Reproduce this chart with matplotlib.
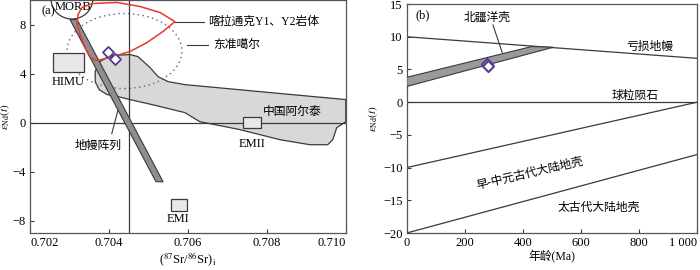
import numpy as np
import matplotlib
matplotlib.use("Agg")
import matplotlib.pyplot as plt
from matplotlib.patches import Polygon, Ellipse, Rectangle

plt.rcParams['font.family'] = ['Liberation Serif', 'Noto Sans CJK SC']
plt.rcParams['mathtext.fontset'] = 'stix'
plt.rcParams['font.size'] = 9

LINE = '#3a3a3a'
RED = '#e5392e'
PURPLE = '#563a94'

# ---- panel (a) data : (87Sr/86Sr)i vs eNd(t)
sr_vline = 0.7045
morb_center = (0.70306, 10.1)
morb_w, morb_h = 0.00106, 3.3

mantle_x = [0.70301, 0.70319, 0.70537, 0.70519]
mantle_y = [8.41, 8.41, -4.82, -4.82]

enriched_x = [0.70377, 0.70403, 0.70453, 0.70473, 0.70504, 0.70524, 0.70549, 0.70592,
              0.70782, 0.71000, 0.71000, 0.70977, 0.70967, 0.70954, 0.70909, 0.70833,
              0.70732, 0.70630, 0.70592, 0.70509, 0.70453, 0.70423, 0.70395, 0.70375,
              0.70365, 0.70365, 0.70372]
enriched_y = [4.98, 5.47, 5.55, 5.39, 4.49, 3.76, 3.35, 3.10,
              2.53, 1.88, 0.08, -0.41, -1.39, -1.80, -1.80, -1.39,
              -0.57, 0.08, 0.82, 1.47, 1.88, 2.12, 2.29, 2.69,
              3.35, 4.16, 4.73]

kalatongke_x = [0.703215, 0.703316, 0.703570, 0.704203, 0.704785, 0.705291, 0.705671,
                0.705367, 0.704962, 0.704532, 0.704101, 0.703696, 0.703519, 0.703392,
                0.703266, 0.703190]
kalatongke_y = [8.82, 9.39, 9.71, 9.80, 9.47, 8.98, 8.24,
                7.43, 6.53, 5.80, 5.39, 5.06, 5.31, 6.12,
                7.18, 8.08]

dzg_center = (0.704392, 5.84)
dzg_w, dzg_h = 0.002911, 6.12

himu_box = (0.70258, 4.10, 0.00079, 1.60)
altai_box = (0.70739, -0.41, 0.00046, 0.90)
emi_box = (0.70557, -7.20, 0.00040, 1.00)

sample_sr = [0.70398, 0.70415]
sample_nd_a = [5.80, 5.20]

sr_ticks = [0.702, 0.704, 0.706, 0.708, 0.710]
sr_labels = ['0.702', '0.704', '0.706', '0.708', '0.710']
nd_ticks_a = [-8, -4, 0, 4, 8]
nd_labels_a = ['−8', '−4', '0', '4', '8']

# ---- panel (b) data : age vs eNd(t)
dm_age = [0, 1000]
dm_nd = [10, 6.7]
chur_age = [0, 1000]
chur_nd = [0, 0]
prot_age = [0, 1000]
prot_nd = [-10, 0]
arch_age = [0, 1000]
arch_nd = [-20, -8]

ocean_age = [0, 0, 430, 505]
ocean_nd = [2.4, 3.8, 8.5, 8.4]

sample_age = [276, 279]
sample_nd_b = [5.8, 5.5]

age_ticks = [0, 200, 400, 600, 800, 1000]
age_labels = ['0', '200', '400', '600', '800', '1 000']
nd_ticks_b = [-20, -15, -10, -5, 0, 5, 10, 15]
nd_labels_b = ['−20', '−15', '−10', '−5', '0', '5', '10', '15']

fig = plt.figure(figsize=(7, 2.7), dpi=100)
ax1 = fig.add_axes([0.043, 0.137, 0.451, 0.863])
ax2 = fig.add_axes([0.581, 0.137, 0.415, 0.848])

# ---------------- (a)
ax1.add_patch(Polygon(list(zip(enriched_x, enriched_y)), closed=True,
                      fc='#d8d8d8', ec=LINE, lw=0.9, zorder=1))
ax1.add_patch(Ellipse(dzg_center, dzg_w, dzg_h, fill=False, ec='#666666',
                      lw=1.0, ls=(0, (1, 2.5)), zorder=2))
ax1.axvline(sr_vline, color=LINE, lw=0.9, zorder=2)
ax1.axhline(0, color=LINE, lw=0.9, zorder=2)
ax1.add_patch(Polygon(list(zip(mantle_x, mantle_y)), closed=True,
                      fc='#8e8e8e', ec=LINE, lw=0.8, zorder=3))
ax1.add_patch(Ellipse(morb_center, morb_w, morb_h, fill=False, ec=LINE, lw=0.9, zorder=3))
ax1.add_patch(Polygon(list(zip(kalatongke_x, kalatongke_y)), closed=True,
                      fill=False, ec=RED, lw=1.1, zorder=4))
for x0, y0, w, h in [himu_box, altai_box, emi_box]:
    ax1.add_patch(Rectangle((x0, y0), w, h, fc='#e8e8e8', ec=LINE, lw=0.9, zorder=4))
ax1.scatter(sample_sr, sample_nd_a, marker='D', s=32, facecolors='white',
            edgecolors=PURPLE, linewidths=1.3, zorder=6)

ax1.plot([0.705671, 0.70641], [8.24, 8.24], color=LINE, lw=0.8)
ax1.plot([0.70597, 0.70651], [6.37, 6.37], color=LINE, lw=0.8)
ax1.plot([0.70423, 0.70407], [1.06, -0.9], color=LINE, lw=0.8)

ax1.text(0.70309, 9.39, 'MORB', ha='center', va='center')
ax1.text(0.70296, 3.35, 'HIMU', ha='center', va='center')
ax1.text(0.70575, -7.84, 'EMI', ha='center', va='center')
ax1.text(0.70762, -1.75, 'EMII', ha='center', va='center')
ax1.text(0.70651, 8.2, '喀拉通克Y1、Y2岩体', ha='left', va='center', fontsize=8.5)
ax1.text(0.70663, 6.3, '东准噶尔', ha='left', va='center', fontsize=8.5)
ax1.text(0.70790, 0.9, '中国阿尔泰', ha='left', va='center', fontsize=8.5)
ax1.text(0.70372, -1.9, '地幔阵列', ha='center', va='center', fontsize=8.5)
ax1.text(0.035, 0.95, '(a)', transform=ax1.transAxes, ha='left', va='center')

ax1.set_xlim(0.702, 0.710)
ax1.set_ylim(-9, 10)
ax1.set_xticks(sr_ticks)
ax1.set_xticklabels(sr_labels)
ax1.get_xticklabels()[0].set_ha('left')
ax1.get_xticklabels()[-1].set_ha('right')
ax1.set_yticks(nd_ticks_a)
ax1.set_yticklabels(nd_labels_a)
ax1.set_xlabel(r'($^{87}$Sr/$^{86}$Sr)$_{\rm i}$', labelpad=1)
ax1.set_ylabel(r'$\varepsilon_{\rm Nd}(t)$', fontsize=8)
ax1.yaxis.set_label_coords(-0.056, 0.5)

# ---------------- (b)
ax2.plot(dm_age, dm_nd, color=LINE, lw=0.9)
ax2.plot(chur_age, chur_nd, color=LINE, lw=0.9)
ax2.plot(prot_age, prot_nd, color=LINE, lw=0.9)
ax2.plot(arch_age, arch_nd, color=LINE, lw=0.9)
ax2.add_patch(Polygon(list(zip(ocean_age, ocean_nd)), closed=True,
                      fc='#9a9a9a', ec=LINE, lw=0.8, zorder=3))
ax2.scatter(sample_age, sample_nd_b, marker='D', s=32, facecolors='white',
            edgecolors=PURPLE, linewidths=1.5, zorder=6)
ax2.plot([297, 331], [11.8, 7.3], color=LINE, lw=0.8)

ax2.text(276, 12.9, '北疆洋壳', ha='center', va='center', fontsize=8.5)
ax2.text(838, 8.5, '亏损地幔', ha='center', va='center', fontsize=8.5)
ax2.text(786, 0.9, '球粒陨石', ha='center', va='center', fontsize=8.5)
ax2.text(424, -10.9, '早-中元古代大陆地壳', ha='center', va='center', rotation=13, fontsize=8.5)
ax2.text(660, -16.2, '太古代大陆地壳', ha='center', va='center', fontsize=8.5)
ax2.text(0.03, 0.95, '(b)', transform=ax2.transAxes, ha='left', va='center')

ax2.set_xlim(0, 1000)
ax2.set_ylim(-20, 15)
ax2.set_xticks(age_ticks)
ax2.set_xticklabels(age_labels)
ax2.get_xticklabels()[-1].set_ha('right')
ax2.set_yticks(nd_ticks_b)
ax2.set_yticklabels(nd_labels_b)
ax2.set_xlabel('年龄(Ma)', labelpad=1, fontsize=8.5)
ax2.set_ylabel(r'$\varepsilon_{\rm Nd}(t)$', labelpad=2, fontsize=8)

for ax in (ax1, ax2):
    ax.tick_params(direction='in', length=3, width=0.8, color=LINE, pad=3)
    for s in ax.spines.values():
        s.set_color('#555555')
        s.set_linewidth(0.9)

fig.savefig('out.png', dpi=100)
